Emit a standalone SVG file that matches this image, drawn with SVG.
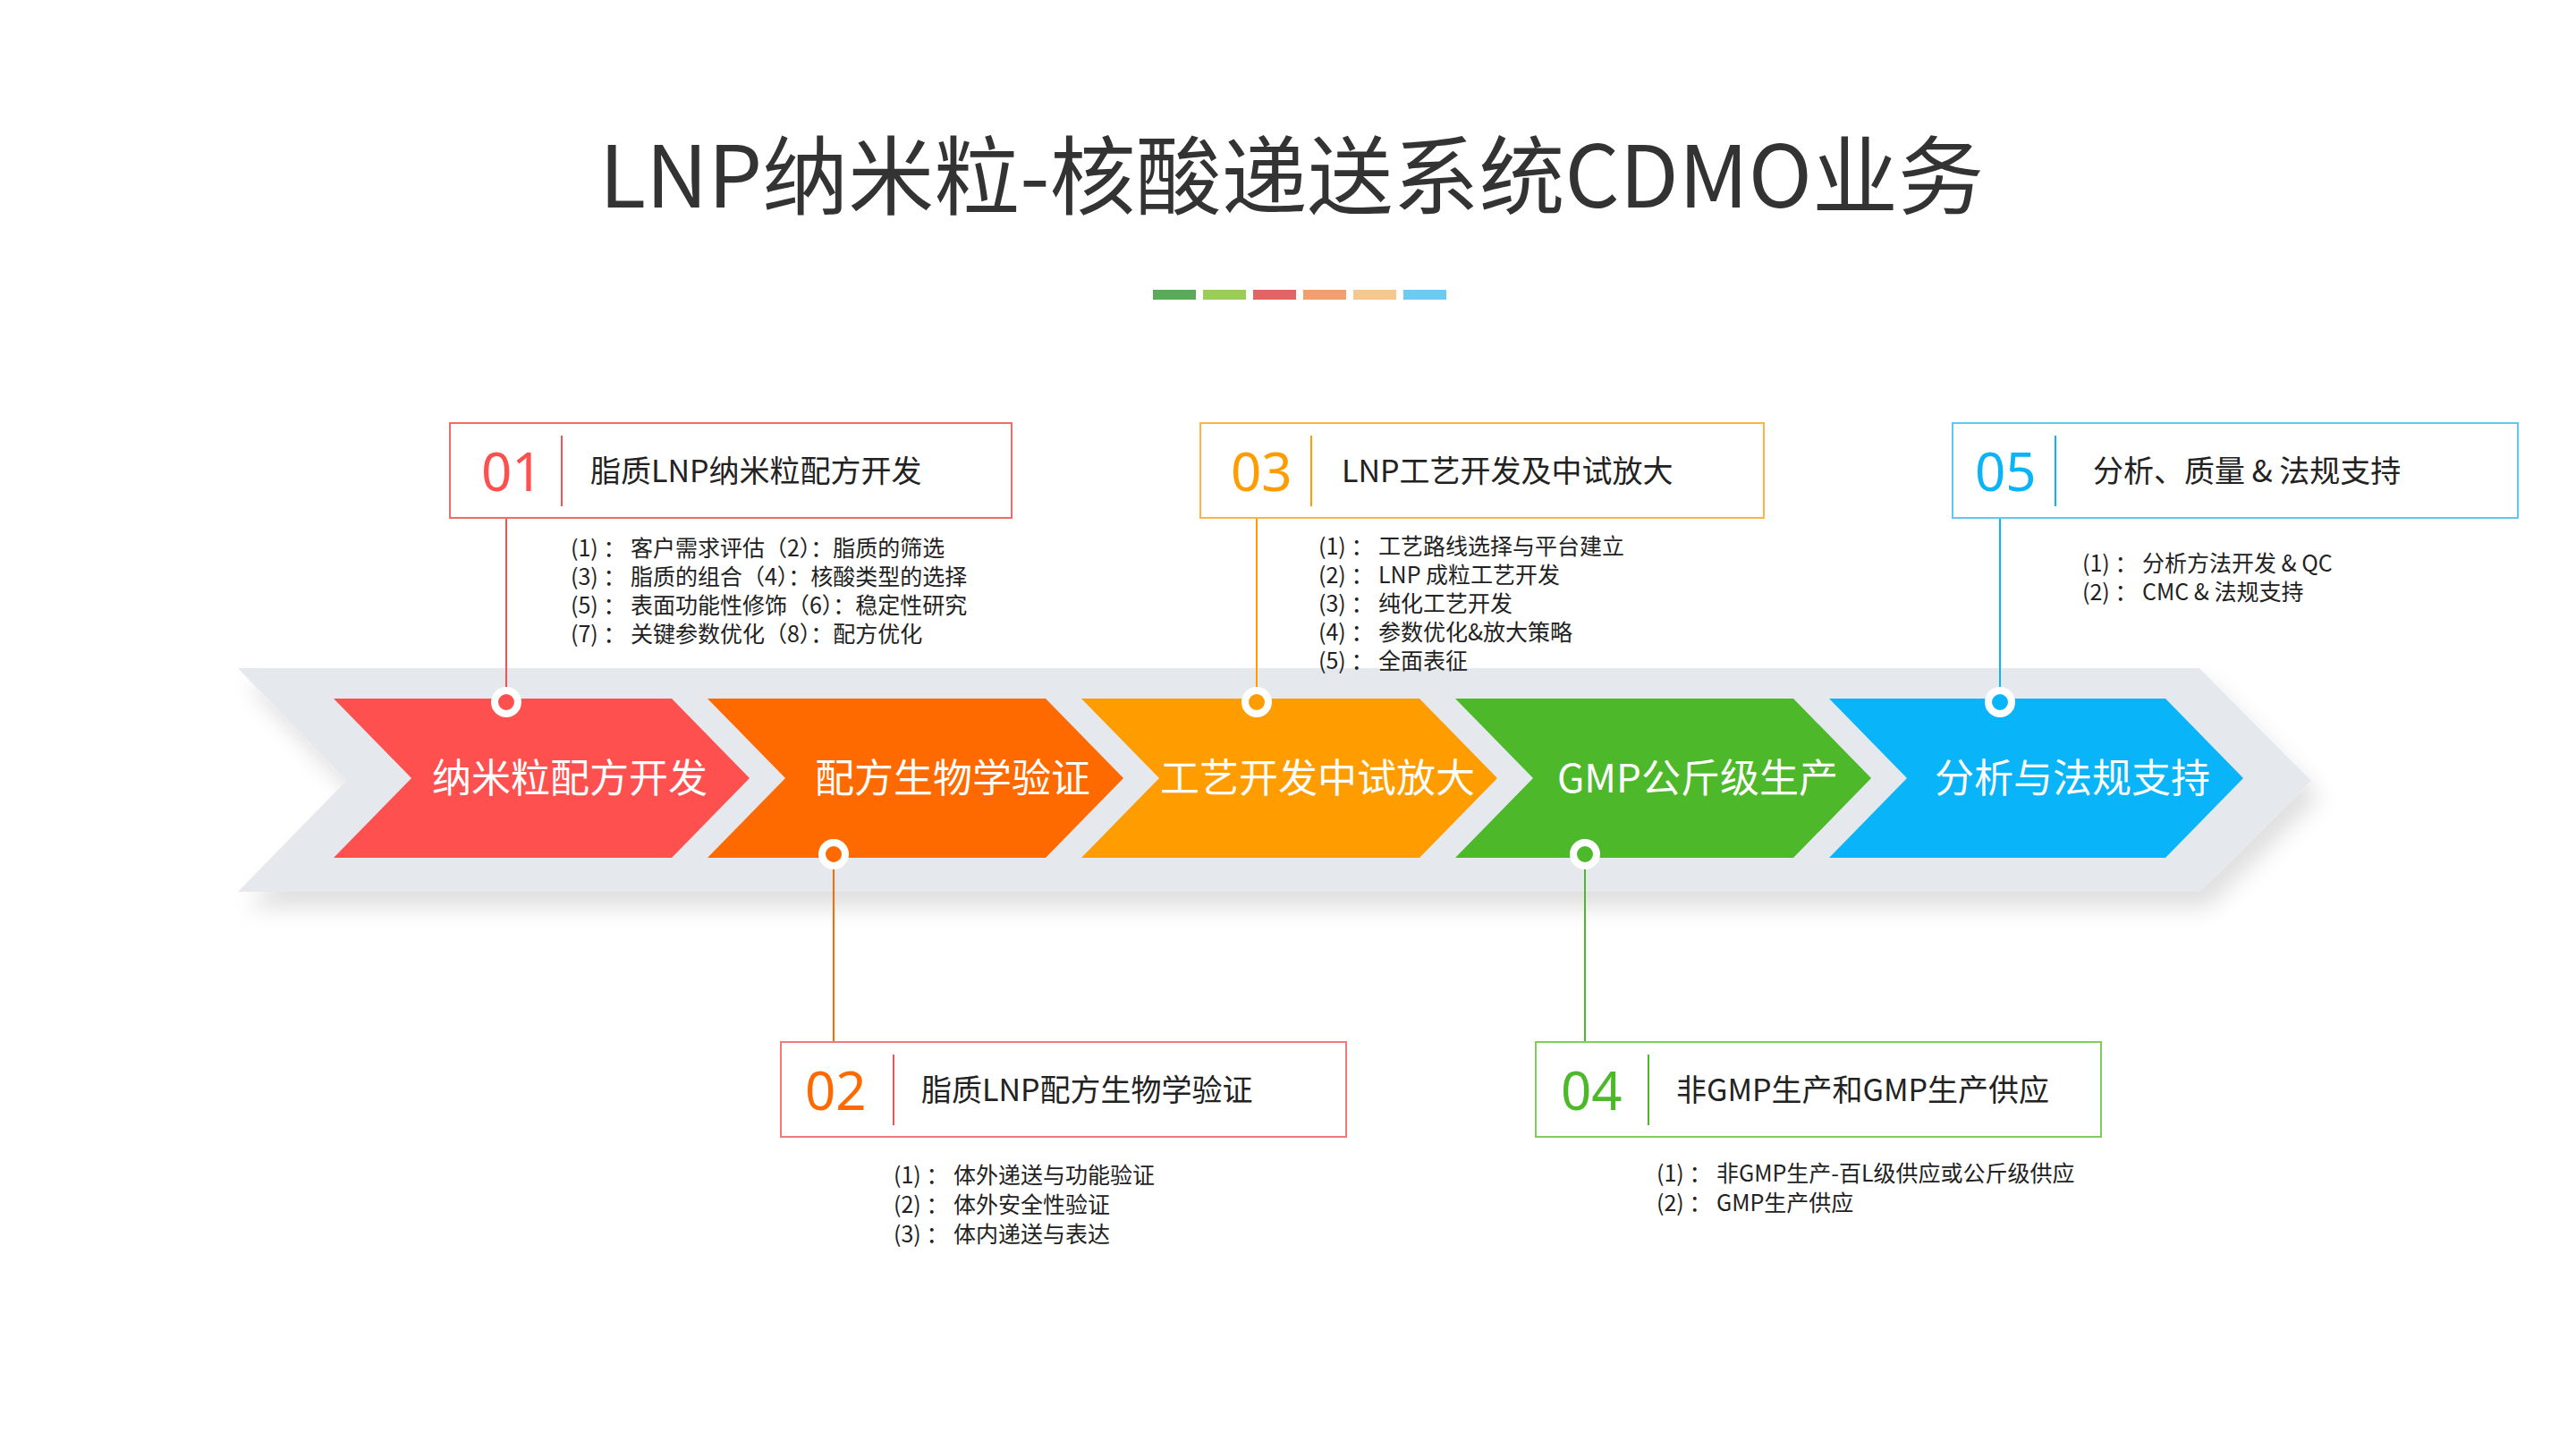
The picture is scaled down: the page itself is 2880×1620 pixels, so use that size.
<svg xmlns="http://www.w3.org/2000/svg" width="2880" height="1620" viewBox="0 0 2880 1620">
<style>
text{font-family:"Noto Sans CJK SC","Noto Sans",sans-serif}
.title{font-size:96px;fill:#333;text-anchor:middle}
.lab{font-size:44px;fill:#fff;text-anchor:middle}
.num{font-size:60px;font-family:"Noto Sans","Noto Sans CJK SC",sans-serif}
.bt{font-size:34px;fill:#222}
.bl{font-size:25px;fill:#222}
.box{fill:#fff;stroke-width:2}
.dot{stroke:#fff;stroke-width:8}
</style>
<defs>
<filter id="sh" x="-5%" y="-20%" width="110%" height="150%"><feDropShadow dx="10" dy="18" stdDeviation="12" flood-color="#000" flood-opacity="0.12"/></filter>
</defs>
<rect width="2880" height="1620" fill="#fff"/>
<text class="title" x="1444" y="232">LNP纳米粒-核酸递送系统CDMO业务</text>
<g id="bars">
<rect x="1289" y="324" width="48" height="11" fill="#5aaa5a"/>
<rect x="1345" y="324" width="48" height="11" fill="#9acd5a"/>
<rect x="1401" y="324" width="48" height="11" fill="#e06666"/>
<rect x="1457" y="324" width="48" height="11" fill="#f0a070"/>
<rect x="1513" y="324" width="48" height="11" fill="#f5c890"/>
<rect x="1569" y="324" width="48" height="11" fill="#6fcaf0"/>
</g>
<polygon id="band" points="266,747 2459,747 2584,873 2459,997 266,997 387,873" fill="#e5e9ee" filter="url(#sh)"/>
<g id="connectors">
<line x1="566" y1="579" x2="566" y2="782" stroke="#ff5050" stroke-width="2"/>
<line x1="932" y1="955" x2="932" y2="1165" stroke="#ff6a00" stroke-width="2"/>
<line x1="1405" y1="579" x2="1405" y2="782" stroke="#ff9c00" stroke-width="2"/>
<line x1="1772" y1="955" x2="1772" y2="1165" stroke="#4cb82a" stroke-width="2"/>
<line x1="2236" y1="579" x2="2236" y2="782" stroke="#0ab4f8" stroke-width="2"/>
</g>
<g id="s1"><polygon points="373,781 751,781 838,870 751,959 373,959 460,870" fill="#ff5050"/><text class="lab" x="637" y="886">纳米粒配方开发</text><circle class="dot" cx="566" cy="785" r="13" fill="#ff5050"/></g>
<g id="s2"><polygon points="791,781 1169,781 1256,870 1169,959 791,959 878,870" fill="#ff6a00"/><text class="lab" x="1065" y="886">配方生物学验证</text><circle class="dot" cx="932" cy="955" r="13" fill="#ff6a00"/></g>
<g id="s3"><polygon points="1209,781 1587,781 1674,870 1587,959 1209,959 1296,870" fill="#ff9c00"/><text class="lab" x="1473" y="886">工艺开发中试放大</text><circle class="dot" cx="1405" cy="785" r="13" fill="#ff9c00"/></g>
<g id="s4"><polygon points="1627,781 2005,781 2092,870 2005,959 1627,959 1714,870" fill="#4cb82a"/><text class="lab" x="1898" y="886">GMP公斤级生产</text><circle class="dot" cx="1772" cy="955" r="13" fill="#4cb82a"/></g>
<g id="s5"><polygon points="2045,781 2421,781 2508,870 2421,959 2045,959 2132,870" fill="#0ab4f8"/><text class="lab" x="2317" y="886">分析与法规支持</text><circle class="dot" cx="2236" cy="785" r="13" fill="#0ab4f8"/></g>
<g id="box1">
<rect class="box" x="503" y="473" width="628" height="106" stroke="#f46a6a"/>
<text class="num" x="538" y="549" fill="#ff5050">01</text>
<line x1="628" y1="487" x2="628" y2="566" stroke="#ff5050" stroke-width="2"/>
<text class="bt" x="660" y="539">脂质LNP纳米粒配方开发</text>
<text class="bl" x="638" y="622">(1) ： 客户需求评估（2）：脂质的筛选</text>
<text class="bl" x="638" y="654">(3) ： 脂质的组合（4）：核酸类型的选择</text>
<text class="bl" x="638" y="686">(5) ： 表面功能性修饰（6）：稳定性研究</text>
<text class="bl" x="638" y="718">(7) ： 关键参数优化（8）：配方优化</text>
</g>
<g id="box3">
<rect class="box" x="1342" y="473" width="630" height="106" stroke="#ffb347"/>
<text class="num" x="1376" y="549" fill="#ff9c00">03</text>
<line x1="1466" y1="487" x2="1466" y2="566" stroke="#ff9c00" stroke-width="2"/>
<text class="bt" x="1500" y="539">LNP工艺开发及中试放大</text>
<text class="bl" x="1474" y="620">(1) ： 工艺路线选择与平台建立</text>
<text class="bl" x="1474" y="652">(2) ： LNP 成粒工艺开发</text>
<text class="bl" x="1474" y="684">(3) ： 纯化工艺开发</text>
<text class="bl" x="1474" y="716">(4) ： 参数优化&amp;放大策略</text>
<text class="bl" x="1474" y="748">(5) ： 全面表征</text>
</g>
<g id="box5">
<rect class="box" x="2183" y="473" width="632" height="106" stroke="#5cc8f5"/>
<text class="num" x="2208" y="549" fill="#0ab4f8">05</text>
<line x1="2298" y1="487" x2="2298" y2="566" stroke="#0ab4f8" stroke-width="2"/>
<text class="bt" x="2340" y="539">分析、质量 &amp; 法规支持</text>
<text class="bl" x="2328" y="639">(1) ： 分析方法开发 &amp; QC</text>
<text class="bl" x="2328" y="671">(2) ： CMC &amp; 法规支持</text>
</g>
<g id="box2">
<rect class="box" x="873" y="1165" width="632" height="106" stroke="#f47a7a"/>
<text class="num" x="900" y="1241" fill="#ff6a00">02</text>
<line x1="999" y1="1179" x2="999" y2="1258" stroke="#ff5050" stroke-width="2"/>
<text class="bt" x="1030" y="1231">脂质LNP配方生物学验证</text>
<text class="bl" x="999" y="1323">(1) ： 体外递送与功能验证</text>
<text class="bl" x="999" y="1356">(2) ： 体外安全性验证</text>
<text class="bl" x="999" y="1389">(3) ： 体内递送与表达</text>
</g>
<g id="box4">
<rect class="box" x="1717" y="1165" width="632" height="106" stroke="#7ccf5e"/>
<text class="num" x="1745" y="1241" fill="#4cb82a">04</text>
<line x1="1843" y1="1179" x2="1843" y2="1258" stroke="#4cb82a" stroke-width="2"/>
<text class="bt" x="1874" y="1231">非GMP生产和GMP生产供应</text>
<text class="bl" x="1852" y="1321">(1) ： 非GMP生产-百L级供应或公斤级供应</text>
<text class="bl" x="1852" y="1354">(2) ： GMP生产供应</text>
</g>
</svg>
